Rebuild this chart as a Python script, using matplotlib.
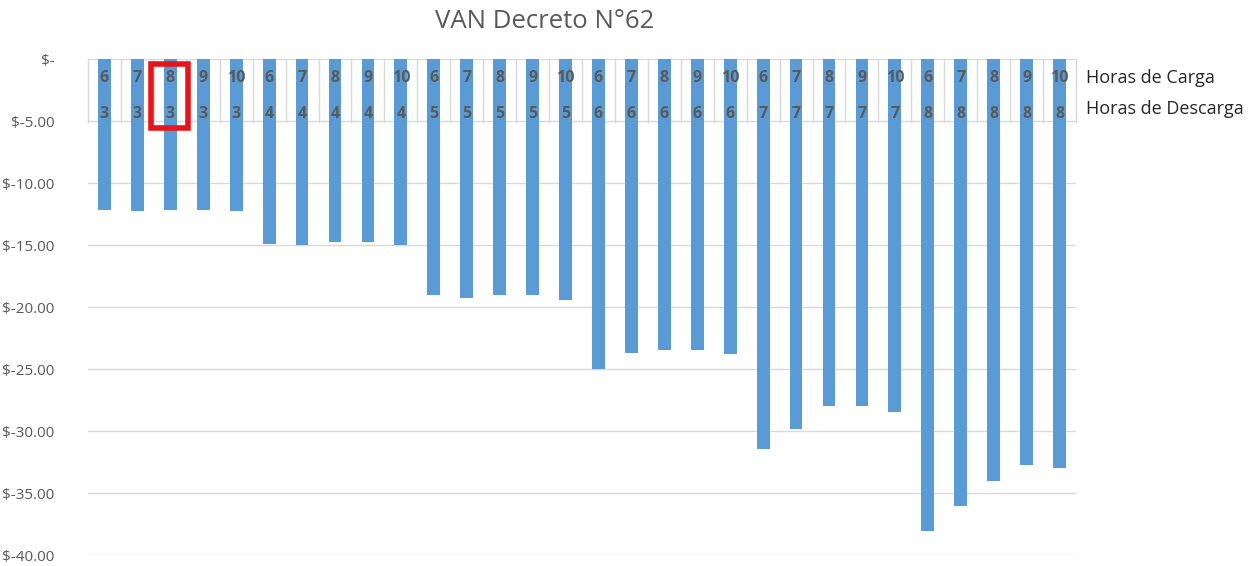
import matplotlib.pyplot as plt
from matplotlib.patches import Rectangle
from matplotlib.ticker import FuncFormatter

# Data: VAN per (charge hours, discharge hours) combination
horas_carga = [6, 7, 8, 9, 10, 6, 7, 8, 9, 10, 6, 7, 8, 9, 10,
               6, 7, 8, 9, 10, 6, 7, 8, 9, 10, 6, 7, 8, 9, 10]
horas_descarga = [3, 3, 3, 3, 3, 4, 4, 4, 4, 4, 5, 5, 5, 5, 5,
                  6, 6, 6, 6, 6, 7, 7, 7, 7, 7, 8, 8, 8, 8, 8]
van = [-12.14, -12.24, -12.14, -12.14, -12.24,
       -14.88, -15.02, -14.77, -14.77, -15.02,
       -19.07, -19.29, -19.07, -19.07, -19.40,
       -25.00, -23.73, -23.50, -23.50, -23.80,
       -31.45, -29.84, -28.00, -28.00, -28.47,
       -38.04, -36.05, -34.00, -32.74, -32.96]
y_ticks = [0, -5, -10, -15, -20, -25, -30, -35, -40]
row_names = ['Horas de Carga', 'Horas de Descarga']
highlight = 2  # index of the marked category

GRAY = '#595959'
GRID = '#d9d9d9'
BLUE = '#5b9bd5'

plt.rcParams['font.family'] = ['Open Sans', 'DejaVu Sans']

W, H = 1259, 566
fig = plt.figure(figsize=(W / 100, H / 100), dpi=100)
ax = fig.add_axes([88 / W, 1 - 555 / H, (1076 - 88) / W, (555 - 59) / H])

x = list(range(len(van)))
ax.bar(x, van, width=0.39, color=BLUE, zorder=2)

ax.set_xlim(-0.5, len(van) - 0.5)
ax.set_ylim(-40, 0)
ax.set_yticks(y_ticks)
ax.yaxis.set_major_formatter(FuncFormatter(lambda v, p: '$-' if v == 0 else '$%.2f' % v))
ax.tick_params(axis='y', length=0, pad=24, labelsize=11, labelcolor=GRAY)
ax.set_xticks([])
ax.grid(axis='y', color=GRID, linewidth=1, zorder=0)
for s in ax.spines.values():
    s.set_visible(False)

# category table at the top
tr = ax.get_xaxis_transform()
row_y = [(555 - 78) / 496, (555 - 114) / 496]
tab_bottom = (555 - 122) / 496
for i in range(len(van) + 1):
    ax.plot([i - 0.5, i - 0.5], [tab_bottom, 1], color=GRID, lw=1, transform=tr, zorder=1, clip_on=False)
for i in x:
    ax.text(i, row_y[0], str(horas_carga[i]), transform=tr, ha='center', va='center',
            fontsize=11.5, fontweight='bold', color=GRAY, zorder=3)
    ax.text(i, row_y[1], str(horas_descarga[i]), transform=tr, ha='center', va='center',
            fontsize=11.5, fontweight='bold', color=GRAY, zorder=3)
ax.text(len(van) - 0.5 + 0.3, (555 - 78) / 496, row_names[0], transform=tr, ha='left', va='center',
        fontsize=13, color='#262626')
ax.text(len(van) - 0.5 + 0.3, (555 - 109) / 496, row_names[1], transform=tr, ha='left', va='center',
        fontsize=13, color='#262626')

# red highlight box
ax.add_patch(Rectangle((highlight - 0.58, (555 - 128) / 496), 1.12, (128 - 64) / 496,
                       transform=tr, fill=False, edgecolor='#e8141c', lw=4, zorder=4, clip_on=False))

fig.text(545 / W, 1 - 21 / H, 'VAN Decreto N°62', ha='center', va='center', fontsize=18.5, color=GRAY)

fig.savefig('out.png', dpi=100)
